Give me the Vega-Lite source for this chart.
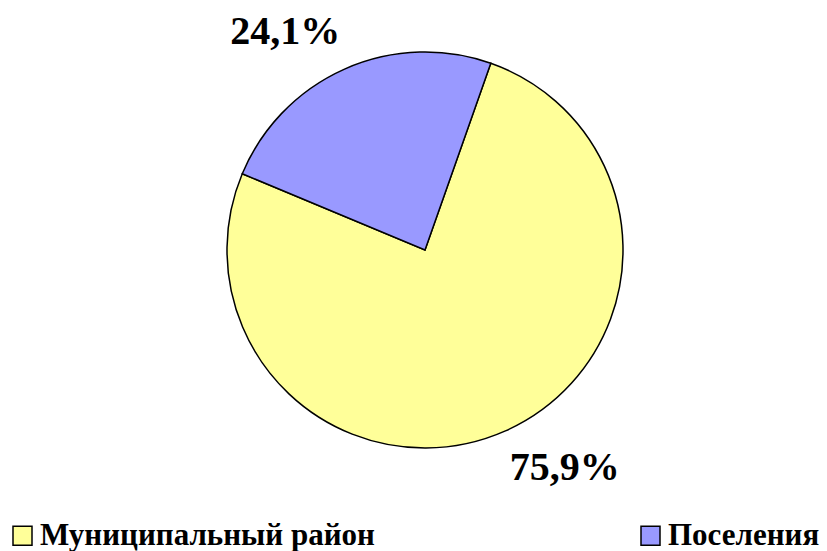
{
  "$schema": "https://vega.github.io/schema/vega-lite/v6.json",
  "width": 804,
  "height": 500,
  "autosize": "none",
  "padding": {"left": 23, "top": 0, "right": 0, "bottom": 51},
  "background": "white",
  "config": {"view": {"stroke": null}},
  "data": {
    "values": [
      {"category": "Муниципальный район", "share": 75.9, "label": "75,9%"},
      {"category": "Поселения", "share": 24.1, "label": "24,1%"}
    ]
  },
  "encoding": {
    "theta": {"field": "share", "type": "quantitative", "stack": true, "scale": {"range": [0.3387, 6.6219]}},
    "order": {"field": "category", "type": "nominal", "sort": "ascending"}
  },
  "layer": [
    {
      "mark": {"type": "arc", "outerRadius": 198, "stroke": "black", "strokeWidth": 1.5},
      "encoding": {
        "color": {
          "field": "category", "type": "nominal",
          "scale": {"domain": ["Муниципальный район", "Поселения"], "range": ["#FFFF99", "#9999FF"]},
          "legend": {
            "title": null, "orient": "none", "direction": "horizontal", "columns": 2,
            "legendX": -16, "legendY": 520,
            "symbolType": "square", "symbolSize": 361, "symbolStrokeColor": "black", "symbolStrokeWidth": 1.5,
            "symbolOpacity": 1,
            "labelFont": "Liberation Serif", "labelFontWeight": "bold", "labelFontSize": 31, "labelColor": "black",
            "labelLimit": 600, "columnPadding": 260, "labelOffset": 2
          }
        }
      }
    },
    {
      "mark": {"type": "text", "radius": 259, "thetaOffset": -0.152, "font": "Liberation Serif", "fontWeight": "bold", "fontSize": 40, "color": "black", "baseline": "middle", "align": "center"},
      "encoding": {"text": {"field": "label"}}
    }
  ]
}
